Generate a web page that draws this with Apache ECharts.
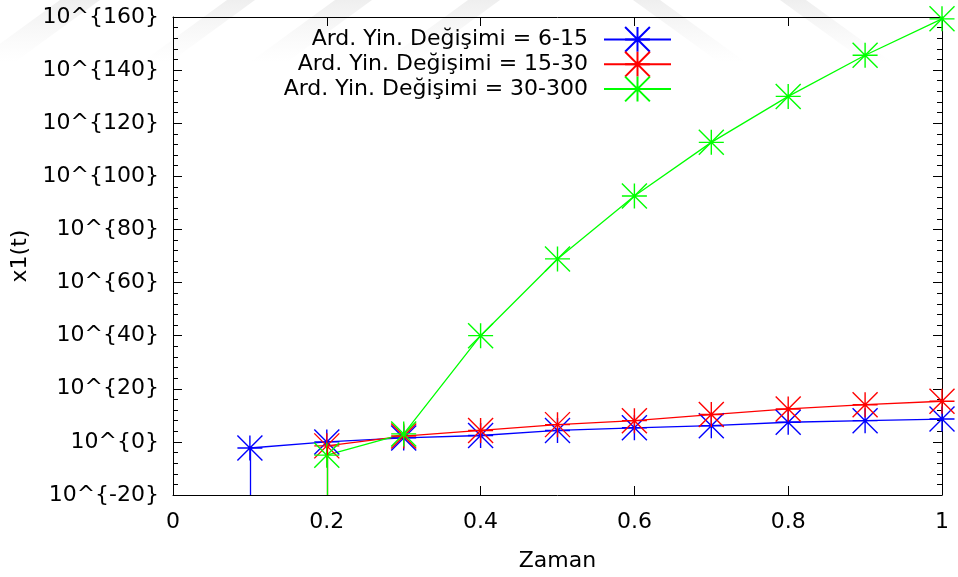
<!DOCTYPE html>
<html>
<head>
<meta charset="utf-8">
<title>x1(t)</title>
<script src="https://cdn.jsdelivr.net/npm/echarts@6/dist/echarts.min.js"></script>
<style>
  html, body { margin: 0; padding: 0; background: #fff; }
  #chart { width: 958px; height: 577px; }
</style>
</head>
<body>
<div id="chart"></div>
<script>
// Time samples (Zaman)
const tBlue  = [0.1, 0.2, 0.3, 0.4, 0.5, 0.6, 0.7, 0.8, 0.9, 1.0];
const tRed   = [0.2, 0.3, 0.4, 0.5, 0.6, 0.7, 0.8, 0.9, 1.0];
const tGreen = [0.2, 0.3, 0.4, 0.5, 0.6, 0.7, 0.8, 0.9, 1.0];

// x1(t) as a power of ten (exponent values)
const expBlue  = [-2.3, 0.0, 1.5, 2.4, 4.3, 5.3, 6.1, 7.4, 8.0, 8.6];
const expRed   = [-1.5, 2.2, 4.3, 6.5, 8.0, 10.3, 12.4, 14.0, 15.3];
const expGreen = [-5.0, 3.0, 40.0, 68.9, 92.6, 112.8, 130.1, 145.6, 159.3];

const seriesNames = [
  'Ard. Yin. Değişimi = 6-15',
  'Ard. Yin. Değişimi = 15-30',
  'Ard. Yin. Değişimi = 30-300'
];
const seriesColors = ['#0000ff', '#ff0000', '#00ff00'];

// Axis ranges
const xMin = 0, xMax = 1, xStep = 0.2;
const yMin = -20, yMax = 160, yStep = 20;

const FONT = 'DejaVu Sans';
const FONT_SIZE = 22;
const ASTERISK = 'path://M0,12.5L25,12.5M12.5,0L12.5,25M0,0L25,25M25,0L0,25';

function pairs(xs, ys) {
  return xs.map((x, i) => [x, ys[i]]);
}

function makeSeries(name, color, xs, ys) {
  return {
    name: name,
    type: 'line',
    data: pairs(xs, ys),
    symbol: ASTERISK,
    symbolSize: 25,
    showAllSymbol: true,
    clip: true,
    lineStyle: { color: color, width: 1.3 },
    itemStyle: { color: color, borderColor: color, borderWidth: 1.4 },
    emphasis: { disabled: true },
    // first sample drops to the bottom of the plot
    markLine: {
      silent: true,
      symbol: ['none', 'none'],
      label: { show: false },
      lineStyle: { color: color, width: 1.3, type: 'solid' },
      data: [[{ coord: [xs[0], ys[0]] }, { coord: [xs[0], yMin] }]],
      animation: false
    }
  };
}

// faint background stripes at the top of the page
function band(x0, x1, dx, h) {
  return {
    type: 'polygon',
    silent: true,
    z: -10,
    shape: { points: [[x0, 0], [x1, 0], [x1 + dx, h], [x0 + dx, h]] },
    style: {
      fill: {
        type: 'linear', x: 0, y: 0, x2: 0, y2: 1,
        colorStops: [
          { offset: 0, color: 'rgba(228,228,228,0.6)' },
          { offset: 1, color: 'rgba(238,238,238,0.0)' }
        ]
      }
    }
  };
}

const chart = echarts.init(document.getElementById('chart'), null, { renderer: 'canvas' });

const axisCommon = {
  axisLine: { show: true, onZero: false, lineStyle: { color: '#000', width: 1 } },
  splitLine: { show: false }
};

chart.setOption({
  animation: false,
  backgroundColor: '#fff',
  textStyle: { fontFamily: FONT },
  graphic: [
    band(60, 100, -85, 62),
    band(227, 255, -85, 62),
    band(335, 372, -85, 62),
    band(468, 500, -85, 62),
    band(633, 660, 87, 63),
    band(780, 806, 87, 63)
  ],
  grid: { left: 173, right: 16, top: 17, bottom: 81, containLabel: false },
  legend: {
    orient: 'vertical',
    right: 281,
    top: 21,
    align: 'right',
    itemWidth: 67,
    itemHeight: 31,
    itemGap: -2,
    selectedMode: false,
    textStyle: { fontFamily: FONT, fontSize: FONT_SIZE, color: '#000', padding: [0, 11, 0, 0] },
    data: seriesNames
  },
  xAxis: [
    Object.assign({
      type: 'value', position: 'bottom',
      min: xMin, max: xMax, interval: xStep,
      name: 'Zaman', nameLocation: 'middle', nameGap: 55,
      nameTextStyle: { fontFamily: FONT, fontSize: FONT_SIZE, color: '#000' },
      axisTick: { show: true, inside: true, length: 9, lineStyle: { color: '#000' } },
      axisLabel: { fontFamily: FONT, fontSize: FONT_SIZE, color: '#000', margin: 16 }
    }, axisCommon),
    Object.assign({
      type: 'value', position: 'top',
      min: xMin, max: xMax, interval: xStep,
      axisTick: { show: true, inside: true, length: 9, lineStyle: { color: '#000' } },
      axisLabel: { show: false }
    }, axisCommon)
  ],
  yAxis: [
    Object.assign({
      type: 'value', position: 'left',
      min: yMin, max: yMax, interval: yStep,
      name: 'x1(t)', nameLocation: 'middle', nameGap: 133, nameRotate: 90,
      nameTextStyle: { fontFamily: FONT, fontSize: FONT_SIZE, color: '#000' },
      axisTick: { show: true, inside: true, length: 9, lineStyle: { color: '#000' } },
      minorTick: { show: true, splitNumber: 5, length: 5, lineStyle: { color: '#000' } },
      axisLabel: {
        fontFamily: FONT, fontSize: FONT_SIZE, color: '#000', margin: 14,
        formatter: v => '10^{' + v + '}'
      }
    }, axisCommon),
    Object.assign({
      type: 'value', position: 'right',
      min: yMin, max: yMax, interval: yStep,
      axisTick: { show: true, inside: true, length: 9, lineStyle: { color: '#000' } },
      minorTick: { show: true, splitNumber: 5, length: 5, lineStyle: { color: '#000' } },
      axisLabel: { show: false }
    }, axisCommon)
  ],
  series: [
    makeSeries(seriesNames[0], seriesColors[0], tBlue, expBlue),
    makeSeries(seriesNames[1], seriesColors[1], tRed, expRed),
    makeSeries(seriesNames[2], seriesColors[2], tGreen, expGreen)
  ]
});
</script>
</body>
</html>
